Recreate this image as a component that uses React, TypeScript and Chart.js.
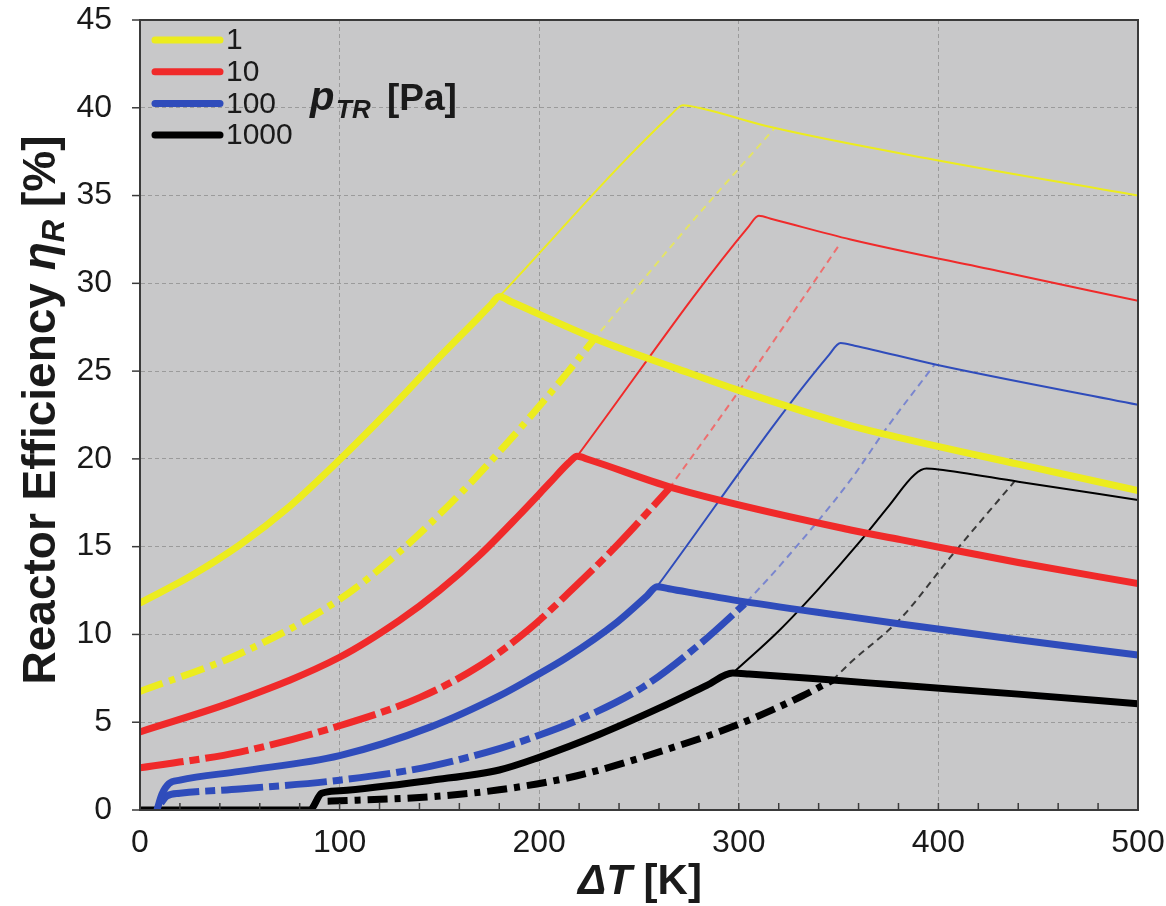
import React, { useEffect, useRef } from 'react';
import { Chart, registerables } from 'chart.js';

Chart.register(...registerables);

// ---- labels / legend ----
const pressures = ['1', '10', '100', '1000'];
const lineColors = ['#ecec1e', '#f02a2a', '#2f4cbb', '#000000'];
const thinDashColors = ['#e4e466', '#ee6f6f', '#7a86cf', '#3a3a3a'];
const thickDashPatterns = [[24, 7, 6, 7], [44, 6, 10, 6], [42, 6, 10, 6], [20, 7, 6, 7]];

// ---- axis ticks ----
const xTickValues = [0, 100, 200, 300, 400, 500];
const yTickStep = 5;

// ---- p = 1 Pa ----
const p1ThickX = [0, 25, 50, 75, 100, 125, 150, 170, 176, 180, 186, 229, 270, 300, 356, 381, 440, 500];
const p1ThickY = [11.8, 13.3, 15.1, 17.3, 19.95, 22.8, 25.8, 28.1, 28.8, 29.25, 28.95, 26.8, 25.1, 23.9, 21.9, 21.2, 19.7, 18.2];
const p1DashX = [0, 50, 100, 130, 162, 180, 197, 214, 227];
const p1DashY = [6.75, 8.9, 12.0, 14.7, 18.2, 20.4, 22.6, 24.9, 26.75];
const p1ThinX = [180, 266, 272, 280, 316, 400, 500];
const p1ThinY = [29.25, 39.6, 40.15, 40.0, 38.9, 37.0, 35.0];
const p1ThinDashX = [227, 272, 318];
const p1ThinDashY = [26.75, 32.9, 38.85];

// ---- p = 10 Pa ----
const p10ThickX = [0, 50, 100, 130, 150, 170, 190, 205, 215, 219, 225, 267, 356, 381, 440, 500];
const p10ThickY = [4.45, 6.3, 8.7, 10.8, 12.5, 14.5, 16.8, 18.6, 19.8, 20.15, 19.95, 18.35, 15.95, 15.4, 14.1, 12.9];
const p10DashX = [0, 50, 100, 140, 170, 195, 215, 240, 265];
const p10DashY = [2.4, 3.3, 4.8, 6.4, 8.2, 10.3, 12.4, 15.2, 18.3];
const p10ThinX = [219, 305, 310, 317, 356, 430, 500];
const p10ThinY = [20.15, 33.25, 33.85, 33.65, 32.5, 30.7, 29.0];
const p10ThinDashX = [265, 304, 351];
const p10ThinDashY = [18.3, 24.5, 32.3];

// ---- p = 100 Pa ----
const p100ThickX = [8.5, 11, 14.5, 20, 50, 100, 146, 180, 196, 214, 239, 254, 259, 265, 297, 356, 381, 440, 500];
const p100ThickY = [0, 0.9, 1.5, 1.7, 2.2, 3.1, 4.75, 6.5, 7.5, 8.7, 10.7, 12.2, 12.72, 12.6, 11.97, 11.0, 10.6, 9.7, 8.83];
const p100DashX = [10.5, 13.5, 20, 50, 100, 146, 180, 196, 219, 252, 281, 304];
const p100DashY = [0.4, 0.8, 0.95, 1.2, 1.7, 2.5, 3.5, 4.1, 5.1, 7.0, 9.5, 11.85];
const p100ThinX = [259, 345, 351, 358, 399, 500];
const p100ThinY = [12.72, 25.9, 26.6, 26.45, 25.36, 23.08];
const p100ThinDashX = [304, 322, 356, 374, 398];
const p100ThinDashY = [11.85, 14.1, 18.8, 21.75, 25.36];

// ---- p = 1000 Pa ----
const p1000ThickX = [0, 85, 91, 100, 146, 180, 200, 230, 260, 284, 297, 305, 347, 381, 440, 500];
const p1000ThickY = [0, 0, 0.95, 1.1, 1.7, 2.28, 3.0, 4.3, 5.8, 7.1, 7.8, 7.75, 7.4, 7.1, 6.6, 6.05];
const p1000DashX = [94, 100, 146, 180, 219, 264, 297, 331, 347];
const p1000DashY = [0.5, 0.52, 0.76, 1.15, 1.95, 3.45, 4.75, 6.45, 7.4];
const p1000ThinX = [297, 320, 340, 360, 375, 388, 394, 400, 440, 500];
const p1000ThinY = [7.8, 10.2, 12.6, 15.2, 17.3, 19.1, 19.45, 19.4, 18.7, 17.66];
const p1000ThinDashX = [347, 356, 381, 406, 438];
const p1000ThinDashY = [7.4, 8.4, 10.9, 14.4, 18.7];

const FONT = "'Liberation Sans', Arial, Helvetica, sans-serif";

type Kind = 'thick' | 'thickDash' | 'thin' | 'thinDash';
const curves: { p: number; kind: Kind; xs: number[]; ys: number[] }[] = [
  { p: 0, kind: 'thick', xs: p1ThickX, ys: p1ThickY },
  { p: 1, kind: 'thick', xs: p10ThickX, ys: p10ThickY },
  { p: 2, kind: 'thick', xs: p100ThickX, ys: p100ThickY },
  { p: 3, kind: 'thick', xs: p1000ThickX, ys: p1000ThickY },
  { p: 0, kind: 'thickDash', xs: p1DashX, ys: p1DashY },
  { p: 1, kind: 'thickDash', xs: p10DashX, ys: p10DashY },
  { p: 2, kind: 'thickDash', xs: p100DashX, ys: p100DashY },
  { p: 3, kind: 'thickDash', xs: p1000DashX, ys: p1000DashY },
  { p: 0, kind: 'thin', xs: p1ThinX, ys: p1ThinY },
  { p: 1, kind: 'thin', xs: p10ThinX, ys: p10ThinY },
  { p: 2, kind: 'thin', xs: p100ThinX, ys: p100ThinY },
  { p: 3, kind: 'thin', xs: p1000ThinX, ys: p1000ThinY },
  { p: 0, kind: 'thinDash', xs: p1ThinDashX, ys: p1ThinDashY },
  { p: 1, kind: 'thinDash', xs: p10ThinDashX, ys: p10ThinDashY },
  { p: 2, kind: 'thinDash', xs: p100ThinDashX, ys: p100ThinDashY },
  { p: 3, kind: 'thinDash', xs: p1000ThinDashX, ys: p1000ThinDashY },
];

function makeDataset(c: { p: number; kind: Kind; xs: number[]; ys: number[] }) {
  const thick = c.kind === 'thick' || c.kind === 'thickDash';
  const dashed = c.kind === 'thickDash' || c.kind === 'thinDash';
  return {
    label: pressures[c.p] + ' ' + c.kind,
    data: c.xs.map((x, i) => ({ x, y: c.ys[i] })),
    showLine: true,
    borderColor: c.kind === 'thinDash' ? thinDashColors[c.p] : lineColors[c.p],
    borderWidth: thick ? 7 : 2,
    borderDash: c.kind === 'thickDash' ? thickDashPatterns[c.p] : c.kind === 'thinDash' ? [7, 5] : [],
    borderCapStyle: dashed ? 'butt' : 'round',
    borderJoinStyle: 'round',
    cubicInterpolationMode: 'monotone',
    pointRadius: 0,
    pointHoverRadius: 0,
    fill: false,
  };
}

function drawRich(ctx: CanvasRenderingContext2D, x: number, y: number, parts: { t: string; font: string; dy?: number }[], align: 'left' | 'center') {
  let total = 0;
  parts.forEach((p) => { ctx.font = p.font; total += ctx.measureText(p.t).width; });
  let cx = align === 'center' ? x - total / 2 : x;
  parts.forEach((p) => {
    ctx.font = p.font;
    ctx.fillText(p.t, cx, y + (p.dy || 0));
    cx += ctx.measureText(p.t).width;
  });
}

const decorPlugin = {
  id: 'decor',
  beforeDraw(chart: any) {
    const { ctx, chartArea: a } = chart;
    ctx.save();
    ctx.fillStyle = '#c8c8c9';
    ctx.fillRect(a.left, a.top, a.right - a.left, a.bottom - a.top);
    ctx.restore();
  },
  afterDraw(chart: any) {
    const { ctx, chartArea: a, scales } = chart;
    ctx.save();
    // frame
    ctx.strokeStyle = '#3a3a3a';
    ctx.lineWidth = 2;
    ctx.strokeRect(a.left, a.top, a.right - a.left, a.bottom - a.top);
    // minor x ticks drawn inside the plot
    ctx.lineWidth = 1.5;
    scales.x.ticks.forEach((t: any) => {
      const px = scales.x.getPixelForValue(t.value);
      ctx.beginPath();
      ctx.moveTo(px, a.bottom);
      ctx.lineTo(px, a.bottom - 7);
      ctx.stroke();
    });
    // y tick marks outside the plot
    scales.y.ticks.forEach((t: any) => {
      const py = scales.y.getPixelForValue(t.value);
      ctx.beginPath();
      ctx.moveTo(a.left - 8, py);
      ctx.lineTo(a.left, py);
      ctx.stroke();
    });
    // legend
    const lx0 = a.left + 15;
    const lx1 = a.left + 80;
    const ly0 = a.top + 20;
    const lstep = 31.7;
    ctx.lineCap = 'round';
    ctx.textBaseline = 'middle';
    ctx.textAlign = 'left';
    pressures.forEach((p, i) => {
      const y = ly0 + i * lstep;
      ctx.strokeStyle = lineColors[i];
      ctx.lineWidth = 7;
      ctx.beginPath();
      ctx.moveTo(lx0, y);
      ctx.lineTo(lx1, y);
      ctx.stroke();
      ctx.fillStyle = '#1a1a1a';
      ctx.font = `30px ${FONT}`;
      ctx.fillText(p, lx1 + 6, y + 1);
    });
    ctx.textBaseline = 'alphabetic';
    ctx.fillStyle = '#1a1a1a';
    ctx.font = `italic bold 40px ${FONT}`;
    ctx.fillText('p', a.left + 170, a.top + 90);
    ctx.font = `italic bold 26px ${FONT}`;
    ctx.fillText('TR', a.left + 196, a.top + 98);
    ctx.font = `bold 37px ${FONT}`;
    ctx.fillText('[Pa]', a.left + 247, a.top + 90);

    // x title
    ctx.fillStyle = '#1a1a1a';
    drawRich(ctx, (a.left + a.right) / 2 + 1, 894, [
      { t: '\u0394T', font: `italic bold 42px ${FONT}` },
      { t: ' [K]', font: `bold 42px ${FONT}` },
    ], 'center');

    // y title (rotated)
    ctx.save();
    ctx.translate(55, (a.top + a.bottom) / 2 - 5);
    ctx.rotate(-Math.PI / 2);
    drawRich(ctx, 0, 0, [
      { t: 'Reactor Efficiency ', font: `bold 46px ${FONT}` },
      { t: '\u03b7', font: `italic bold 46px ${FONT}` },
      { t: 'R', font: `italic bold 31px ${FONT}`, dy: 9 },
      { t: ' [%]', font: `bold 46px ${FONT}` },
    ], 'center');
    ctx.restore();
    ctx.restore();
  },
};

export default function App() {
  const ref = useRef<HTMLCanvasElement>(null);
  useEffect(() => {
    if (!ref.current) return;
    const chart = new Chart(ref.current, {
      type: 'scatter',
      data: { datasets: curves.map(makeDataset) as any },
      options: {
        animation: false,
        responsive: true,
        maintainAspectRatio: false,
        layout: { padding: { top: 20, right: 28, bottom: 0, left: 0 } },
        plugins: { legend: { display: false }, tooltip: { enabled: false } },
        scales: {
          x: {
            type: 'linear',
            min: 0,
            max: 500,
            ticks: {
              stepSize: 20,
              autoSkip: false,
              maxRotation: 0,
              padding: 0,
              color: '#1a1a1a',
              font: { family: FONT, size: 32 },
              callback: (v: any) => (xTickValues.includes(Number(v)) ? String(v) : ''),
            },
            grid: {
              color: (c: any) => (c.tick && xTickValues.includes(c.tick.value) ? '#9b9b9b' : 'rgba(0,0,0,0)'),
              lineWidth: 1,
              drawTicks: true,
              tickLength: 14,
              tickColor: 'rgba(0,0,0,0)',
            },
            border: { display: true, color: '#3a3a3a', width: 2, dash: [4, 3] },
            afterFit: (s: any) => { s.height = 96; },
          },
          y: {
            type: 'linear',
            min: 0,
            max: 45,
            ticks: {
              stepSize: yTickStep,
              padding: 0,
              color: '#1a1a1a',
              font: { family: FONT, size: 32 },
            },
            grid: {
              color: '#9b9b9b',
              lineWidth: 1,
              drawTicks: true,
              tickLength: 28,
              tickColor: 'rgba(0,0,0,0)',
            },
            border: { display: true, color: '#3a3a3a', width: 2, dash: [4, 3] },
            afterFit: (s: any) => { s.width = 140; },
          },
        },
      },
      plugins: [decorPlugin],
    } as any);
    return () => chart.destroy();
  }, []);
  return (
    <div style={{ position: 'absolute', left: 0, top: 0, width: 1166, height: 906, background: '#ffffff' }}>
      <canvas ref={ref} />
    </div>
  );
}
